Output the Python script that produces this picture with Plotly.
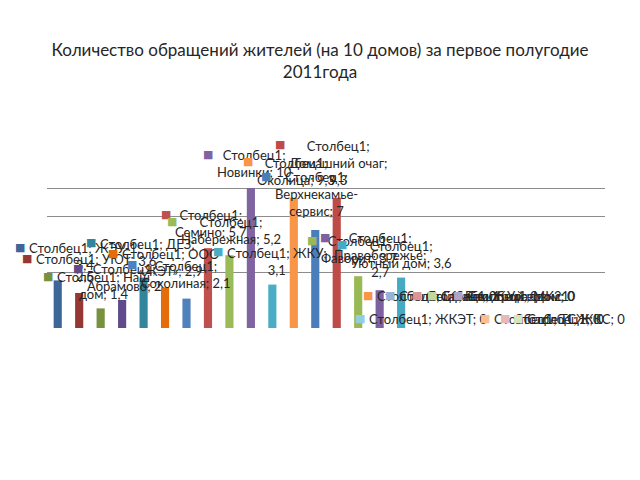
import plotly.graph_objects as go

# ---- data ----
series_name = "Столбец1"
categories = [
    "ЖЭУ-1", "УЮТ", "Наш дом", "Абрамово", "ДЕЗ", "ООО «ЖЭТ»", "Соколиная",
    "Семино", "Набережная", "Новинки", "ЖКУ", "Околица", "Верхнекамье-сервис",
    "Домашний очаг", "Фаворит", "Правобережье", "Уютный дом",
    "Гарант", "Ремстрой", "Жилсервис", "Уралдом", "МК21", "ЖКЭТ", "ТСЖ", "ЖКС", "Дом",
]
values = [3.4, 2.5, 1.4, 2.0, 3.6, 2.9, 2.1, 5.7, 5.2, 10, 3.1, 9.3, 7, 9.3,
          3.7, 2.7, 3.6, 0, 0, 0, 0, 0, 0, 0, 0, 0]
# how each data label's text is wrapped (Excel style)
label_text = [
    "Столбец1; ЖЭУ-1;<br>3,4",
    "Столбец1; УЮТ;<br>2,5",
    "Столбец1; Наш<br>дом; 1,4",
    "Столбец1;<br>Абрамово; 2",
    "Столбец1; ДЕЗ;<br>3,6",
    "Столбец1; ООО<br>«ЖЭТ»; 2,9",
    "Столбец1;<br>Соколиная; 2,1",
    "Столбец1;<br>Семино; 5,7",
    "Столбец1;<br>Набережная; 5,2",
    "Столбец1;<br>Новинки; 10",
    "Столбец1; ЖКУ;<br>3,1",
    "Столбец1;<br>Околица; 9,3",
    "Столбец1;<br>Верхнекамье-<br>сервис; 7",
    "Столбец1;<br>Домашний очаг;<br>9,3",
    "Столбец1;<br>Фаворит; 3,7",
    "Столбец1;<br>Правобережье;<br>2,7",
    "Столбец1;<br>Уютный дом; 3,6",
    "Столбец1; Гарант; 0",
    "Столбец1; Ремстрой; 0",
    "Столбец1; Жилсервис; 0",
    "Столбец1; Уралдом; 0",
    "Столбец1; МК21",
    "Столбец1; ЖКЭТ; 0",
    "Столбец1; ТСЖ; 0",
    "Столбец1; ЖКС; 0",
    "Столбец1; 0",
]

# ---- styles ----
colors = [
    "#3D6699", "#953735", "#76923C", "#5F4B8B", "#31859C", "#E46C0A",
    "#4F81BD", "#C0504D", "#9BBB59", "#8064A2", "#4BACC6", "#F79646",
    "#4A7EBB", "#BE4B48", "#98B954", "#7D60A0", "#46AAC5", "#F79646",
    "#95B3D7", "#D99694", "#C3D69B", "#B3A2C7", "#93CDDD", "#FAC090",
    "#E6B9B8", "#D7E4BD",
]
# label key offsets (px) from each bar top, Excel's label layout
key_dx = [-38, -52, -53, -44, -53, -52, -55, -42, -57, -43, -54, -46, -49, -57,
          -46, -55, -59, -55, -54, -49, -55, -50, -170, -66, -68, -76]
key_dy = [-33, -35, -32, -32, -35, -34, -34, -34, -34, -34, -33, -36, -54, -53,
          -36, -53, -33, -33, -33, -33, -33, -33, -10, -10, -10, -10]

FONT = "Lato, Roboto, 'DejaVu Sans', sans-serif"

fig = go.Figure()
fig.add_trace(go.Bar(
    x=list(range(len(categories))), y=values,
    marker=dict(color=colors, line=dict(width=0)),
    name=series_name, hovertext=categories,
))

annotations = []
for i, (txt, v) in enumerate(zip(label_text, values)):
    # legend key square
    annotations.append(dict(
        x=i, y=v, xref="x", yref="y", text="■", showarrow=False,
        xshift=key_dx[i], yshift=-key_dy[i], xanchor="center", yanchor="middle",
        font=dict(family="DejaVu Sans", size=11, color=colors[i]),
    ))
    # label text
    annotations.append(dict(
        x=i, y=v, xref="x", yref="y", text=txt, showarrow=False,
        xshift=key_dx[i] + 7, yshift=-(key_dy[i] - 9), xanchor="left", yanchor="top",
        align="center", font=dict(family=FONT, size=13, color="#262626"),
    ))

fig.update_layout(
    width=640, height=480,
    paper_bgcolor="white", plot_bgcolor="white",
    margin=dict(l=47, r=35, t=160, b=152),
    showlegend=False,
    bargap=0.62,
    title=dict(
        text="Количество обращений жителей (на 10 домов) за первое полугодие<br>2011года",
        x=0.5, xanchor="center", y=1 - 56 / 480, yanchor="top",
        font=dict(family=FONT, size=17, color="#262626"),
    ),
    xaxis=dict(range=[-0.5, len(categories) - 0.5], showticklabels=False,
               showgrid=False, zeroline=False, showline=False, ticks=""),
    yaxis=dict(range=[0, 12], tickvals=[4, 8, 10], showticklabels=False,
               showgrid=True, gridcolor="#8C8C8C", gridwidth=1,
               zeroline=False, showline=False, ticks=""),
    annotations=annotations,
)

fig.write_html("out.html")
